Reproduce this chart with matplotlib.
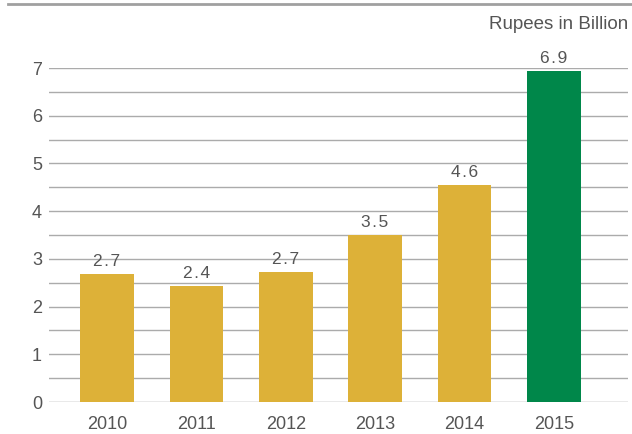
import matplotlib
matplotlib.use("Agg")
import matplotlib.pyplot as plt
from matplotlib.lines import Line2D

years = ["2010", "2011", "2012", "2013", "2014", "2015"]
values = [2.68, 2.43, 2.72, 3.5, 4.55, 6.93]
value_labels = ["2.7", "2.4", "2.7", "3.5", "4.6", "6.9"]
colors = ["#DDB138"] * 5 + ["#00874A"]

plt.rcParams["font.family"] = ["Liberation Sans", "DejaVu Sans"]

fig = plt.figure(figsize=(6.32, 4.34), dpi=100)
ax = fig.add_axes([0.0775, 0.0737, 0.916, 0.7696])

# gridlines every half unit, behind bars
for y in [i * 0.5 for i in range(0, 15)]:
    ax.axhline(y, color="#ababab" if y > 0 else "#909090", lw=1.0, zorder=1)

x = range(len(years))
ax.bar(x, values, width=0.6, color=colors, zorder=2)
for xi, v, lab in zip(x, values, value_labels):
    spaced = "\u200a".join(lab)  # digits are spread apart in the reference
    ax.text(xi, v + 0.11, spaced, ha="center", va="bottom", fontsize=12.5,
            color="#555555", zorder=3)

ax.set_xlim(-0.65, 5.83)
ax.set_ylim(0, 7)
ax.set_xticks(list(x))
ax.set_xticklabels(years)
ax.set_yticks(range(0, 8))
ax.tick_params(axis="both", length=0, labelsize=13, labelcolor="#555555")
ax.tick_params(axis="x", pad=10)
ax.tick_params(axis="y", pad=5)
for s in ax.spines.values():
    s.set_visible(False)

fig.text(0.994, 0.943, "Rupees in Billion", ha="right", va="center",
         fontsize=13.5, color="#555555")
fig.add_artist(Line2D([0.012, 1.0], [0.99, 0.99], color="#a0a0a0", lw=2))

fig.savefig("out.png", dpi=100)
